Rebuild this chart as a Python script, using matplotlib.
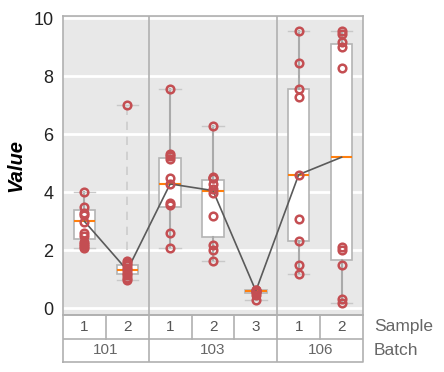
import matplotlib
matplotlib.use("Agg")
import matplotlib.pyplot as plt
import numpy as np

plt.rcParams['font.family'] = ['Liberation Sans', 'DejaVu Sans']

# ---- data ----
batches = ["101", "101", "103", "103", "103", "106", "106"]
samples = ["1", "2", "1", "2", "3", "1", "2"]
batch_labels = ["101", "103", "106"]
batch_sizes = [2, 3, 2]

values = [
    [4.0, 3.51, 3.29, 3.22, 2.99, 2.6, 2.51, 2.3, 2.23, 2.14, 2.08],
    [7.0, 1.62, 1.56, 1.48, 1.39, 1.31, 1.23, 1.14, 1.06, 0.99],
    [7.56, 5.32, 5.24, 5.15, 4.5, 4.29, 3.63, 3.55, 2.61, 2.09],
    [6.3, 4.52, 4.5, 4.48, 4.29, 4.12, 3.97, 3.19, 2.2, 2.0, 1.62],
    [0.64, 0.62, 0.6, 0.58, 0.55, 0.47, 0.3],
    [9.57, 8.46, 7.56, 7.27, 4.61, 3.09, 2.31, 1.5, 1.19],
    [9.57, 9.46, 9.19, 9.0, 8.29, 2.11, 2.02, 1.5, 0.33, 0.2],
]

box_q1 = [2.4, 1.19, 3.51, 2.45, 0.53, 2.31, 1.65]
box_med = [3.0, 1.31, 4.29, 4.06, 0.6, 4.61, 5.21]
box_q3 = [3.4, 1.5, 5.19, 4.43, 0.62, 7.56, 9.11]
whis_lo = [2.08, 0.99, 2.09, 1.62, 0.3, 1.19, 0.2]
whis_hi = [4.0, 7.0, 7.56, 6.3, 0.62, 9.57, 9.57]

W, H = 444, 372
fig = plt.figure(figsize=(W / 100, H / 100), dpi=100)

L, R, T, B = 63, 363, 15.7, 315
ax = fig.add_axes([L / W, 1 - B / H, (R - L) / W, (B - T) / H])
ax.set_facecolor("#e8e8e8")
n = len(samples)
pos = np.arange(n)

for yv in range(0, 11, 2):
    ax.axhline(yv, color="white", lw=2, zorder=0.5)

stats = []
for i in range(n):
    stats.append(dict(q1=box_q1[i], med=box_med[i], q3=box_q3[i],
                      whislo=whis_lo[i], whishi=whis_hi[i], fliers=[]))
bp = ax.bxp(stats, positions=pos, widths=0.5, patch_artist=True,
            showfliers=False, capwidths=0.5,
            boxprops=dict(facecolor="white", edgecolor="#b4b4b4", lw=1.2),
            medianprops=dict(color="#ff7f0e", lw=1.5),
            whiskerprops=dict(color="#aaaaaa", lw=1.5),
            capprops=dict(color="#c8c8c8", lw=1.0), zorder=2)
# dashed upper whisker for batch 101 sample 2
bp["whiskers"][3].set_linestyle((0, (5, 4)))
bp["whiskers"][3].set_color("#cccccc")
bp["whiskers"][3].set_linewidth(1.2)

ax.plot(pos, box_med, color="#5a5a5a", lw=1.2, zorder=3)

for i in range(n):
    ax.plot(np.full(len(values[i]), pos[i]), values[i], 'o', ms=5.5, mfc="none",
            mec="#c44e52", mew=1.8, zorder=4)

# batch separators
edges = np.cumsum(batch_sizes)[:-1] - 0.5
for e in edges:
    ax.axvline(e, color="#b0b0b0", lw=1.2, zorder=1)

ax.set_xlim(-0.5, n - 0.5)
ax.set_ylim(-0.23, 10.09)
ax.set_xticks([])
ax.set_yticks(range(0, 11, 2))
ax.tick_params(axis="y", length=0, labelsize=13, colors="#222222", pad=7)
for s in ax.spines.values():
    s.set_color("#b0b0b0")
    s.set_linewidth(1.2)
ax.set_ylabel("Value", fontsize=14.5, fontweight="bold", style="italic", labelpad=6)

# ---- label table ----
TB = 362
tax = fig.add_axes([L / W, 1 - TB / H, (R - L) / W, (TB - B) / H])
tax.set_xlim(-0.5, n - 0.5)
tax.set_ylim(0, 2)
tax.axis("off")
lc = "#b0b0b0"
tax.plot([-0.5, n - 0.5, n - 0.5, -0.5, -0.5], [0, 0, 2, 2, 0], color=lc, lw=1.2,
         clip_on=False)
tax.plot([-0.5, n - 0.5], [1, 1], color=lc, lw=1.2)
for i in range(1, n):
    tax.plot([i - 0.5, i - 0.5], [1, 2], color=lc, lw=1.2)
for e in edges:
    tax.plot([e, e], [0, 1], color=lc, lw=1.2)
for i in range(n):
    tax.text(pos[i], 1.5, samples[i], ha="center", va="center", fontsize=11,
             color="#555555")
starts = np.concatenate([[0], np.cumsum(batch_sizes)[:-1]])
for b, s0, sz in zip(batch_labels, starts, batch_sizes):
    tax.text(s0 + (sz - 1) / 2, 0.5, b, ha="center", va="center", fontsize=11,
             color="#666666")
tax.text(n - 0.5 + 0.25, 1.5, "Sample", ha="left", va="center", fontsize=12.5,
         color="#666666")
tax.text(n - 0.5 + 0.25, 0.5, "Batch", ha="left", va="center", fontsize=12.5,
         color="#666666")

fig.savefig("out.png", dpi=100)
